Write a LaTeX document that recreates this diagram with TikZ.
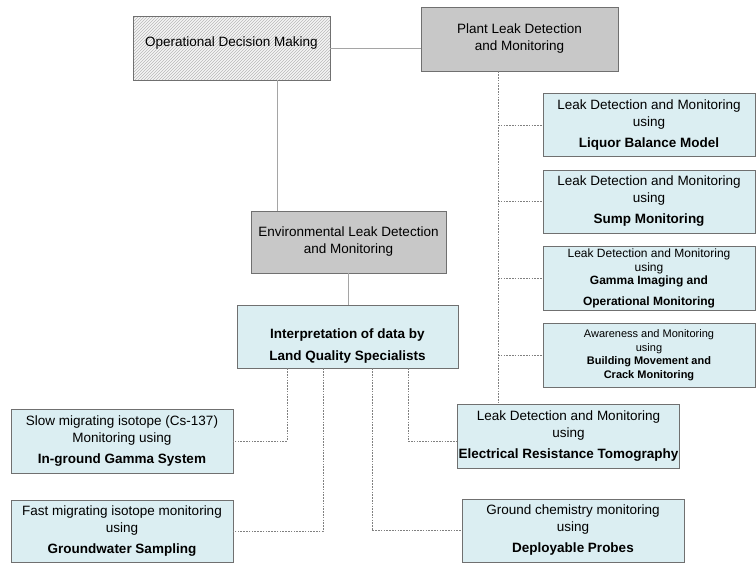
\documentclass[tikz,border=0pt]{standalone}
\usepackage{fontspec}
\setmainfont{Liberation Sans}
\usetikzlibrary{positioning,patterns}
\definecolor{infofill}{RGB}{219,238,242}
\definecolor{headfill}{RGB}{200,200,200}
\definecolor{linkgray}{RGB}{165,165,165}
\definecolor{edgegray}{RGB}{112,112,112}

\begin{document}
\begin{tikzpicture}[x=1pt,y=-1pt,
    box/.style={draw=edgegray,line width=0.9pt,align=center,inner sep=1pt,
      font=\fontsize{13.5}{17}\selectfont,minimum width=212pt,minimum height=63pt},
    info/.style={box,fill=infofill},
    head/.style={box,fill=headfill,minimum width=197pt,minimum height=64pt},
    hatched/.style={box,preaction={fill=gray!8},pattern=north east lines,
      pattern color=gray!55,minimum width=197pt,minimum height=64pt},
    link/.style={draw=linkgray,line width=0.9pt},
    dotlink/.style={draw=black!50,line width=1pt,dash pattern=on 1.6pt off 1.2pt}]
    \useasboundingbox (0,0) rectangle (756,563);

    % top level
    \node[hatched] (odm) at (231.5,48) {Operational Decision Making\\[-4pt]\mbox{}};
    \node[head] (plant) at (519.5,39) {Plant Leak Detection\\and Monitoring};
    \node[head,minimum width=195pt,minimum height=62pt] (env) at (348.5,242)
        {Environmental Leak Detection\\and Monitoring};
    \node[info,minimum width=221pt,font=\fontsize{13.5}{17}\selectfont\bfseries]
        (interp) at (347.5,336.5)
        {\mbox{}\\[12pt]Interpretation of data by\\[5pt]Land Quality Specialists};

    % plant methods
    \node[info] (liquor) at (649,125)
        {Leak Detection and Monitoring\\using\\[4pt]\textbf{Liquor Balance Model}};
    \node[info] (sump) at (649,201.5)
        {Leak Detection and Monitoring\\using\\[4pt]\textbf{Sump Monitoring}};
    \node[info,minimum height=64pt,font=\fontsize{12}{13.5}\selectfont] (gamma) at (649,278.5)
        {Leak Detection and Monitoring\\using\\\textbf{Gamma Imaging and}\\[7pt]\textbf{Operational Monitoring}};
    \node[info,minimum height=64pt,font=\fontsize{11}{13.5}\selectfont] (building) at (649,355)
        {Awareness and Monitoring\\using\\\textbf{Building Movement and}\\\textbf{Crack Monitoring}};

    % environmental methods
    \node[info,minimum width=221pt,minimum height=64pt] (ert) at (568.5,436)
        {Leak Detection and Monitoring\\using\\[4pt]\textbf{Electrical Resistance Tomography}};
    \node[info,minimum width=222pt] (probes) at (573,530.5)
        {Ground chemistry monitoring\\using\\[4pt]\textbf{Deployable Probes}};
    \node[info,minimum width=222pt,minimum height=64pt] (ingamma) at (122,441)
        {Slow migrating isotope (Cs-137)\\Monitoring using\\[4pt]\textbf{In-ground Gamma System}};
    \node[info,minimum width=222pt,minimum height=62pt] (groundwater) at (122,531)
        {Fast migrating isotope monitoring\\using\\[4pt]\textbf{Groundwater Sampling}};

    % solid links
    \draw[link] (odm.east) -- (odm.east -| plant.west);
    \draw[link] ([xshift=45.5pt]odm.south) -- ([xshift=45.5pt]odm.south |- env.north);
    \draw[link] (env.south) -- (env.south |- interp.north);

    % dotted links
    \coordinate (trunk) at (498,0);
    \draw[dotlink] (trunk |- plant.south) -- (trunk |- ert.north);
    \foreach \n in {liquor,sump,gamma,building}
        \draw[dotlink] (trunk |- \n.west) -- (\n.west);
    \draw[dotlink] ([xshift=-60.5pt]interp.south) |- (ingamma.east);
    \draw[dotlink] ([xshift=-24.5pt]interp.south) |- (groundwater.east);
    \draw[dotlink] ([xshift=24.5pt]interp.south) |- (probes.west);
    \draw[dotlink] ([xshift=60.5pt]interp.south) |- (ert.west |- ingamma.east);
\end{tikzpicture}
\end{document}
